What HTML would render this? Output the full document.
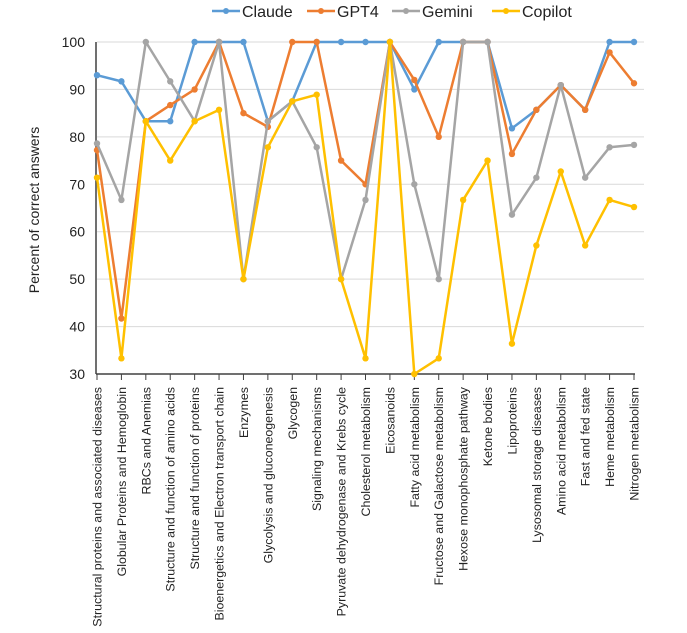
<!DOCTYPE html>
<html><head><meta charset="utf-8"><style>
body{margin:0;background:#fff;}
svg{display:block;font-family:"Liberation Sans",sans-serif;}
</style></head><body>
<svg id="chart" width="687" height="633"></svg>
<script>
const categories=["Structural proteins and associated diseases","Globular Proteins and Hemoglobin","RBCs and Anemias","Structure and function of amino acids","Structure and function of proteins","Bioenergetics and Electron transport chain","Enzymes","Glycolysis and gluconeogenesis","Glycogen","Signaling mechanisms","Pyruvate dehydrogenase and Krebs cycle","Cholesterol metabolism","Eicosanoids","Fatty acid metabolism","Fructose and Galactose metabolism","Hexose monophosphate pathway","Ketone bodies","Lipoproteins","Lysosomal storage diseases","Amino acid metabolism","Fast and fed state","Heme metabolism","Nitrogen metabolism"];
const claude=[93,91.7,83.3,83.3,100,100,100,83.3,87.5,100,100,100,100,90,100,100,100,81.8,85.7,90.9,85.7,100,100];
const gpt4=[77.2,41.7,83.3,86.7,90,100,85,82.1,100,100,75,70,100,92,80,100,100,76.4,85.7,90.9,85.7,97.8,91.3];
const gemini=[78.6,66.7,100,91.7,83.3,100,50,83.3,87.5,77.8,50,66.7,100,70,50,100,100,63.6,71.4,90.9,71.4,77.8,78.3];
const copilot=[71.4,33.3,83.3,75,83.3,85.7,50,77.8,87.5,88.9,50,33.3,100,30,33.3,66.7,75,36.4,57.1,72.7,57.1,66.7,65.2];
const yTicks=[30,40,50,60,70,80,90,100];
const seriesNames=["Claude","GPT4","Gemini","Copilot"];
const NS="http://www.w3.org/2000/svg";
const svg=document.getElementById('chart');
const x0=97,x1=634,yTop=42,yBot=374,yMin=30,yMax=100;
function xs(i){return x0+(x1-x0)*i/(categories.length-1);}
function ys(v){return yBot-(v-yMin)/(yMax-yMin)*(yBot-yTop);}
function mk(tag,attrs,parent){const e=document.createElementNS(NS,tag);for(const k in attrs)e.setAttribute(k,attrs[k]);(parent||svg).appendChild(e);return e;}
yTicks.forEach(t=>{
  if(t>yMin){const g=mk('line',{x1:x0,x2:x1+10,y1:ys(t),y2:ys(t),stroke:'#d9d9d9','stroke-width':1});
  
  }
  const tx=mk('text',{x:85,y:ys(t)+5,'text-anchor':'end','font-size':14,fill:'#222'});tx.textContent=t;
  
  
});
const ax=mk('line',{x1:x0-1,x2:x0-1,y1:yTop,y2:yBot,stroke:'#404040','stroke-width':1.5});


const bx=mk('line',{x1:x0-1,x2:x1+1,y1:yBot,y2:yBot,stroke:'#404040','stroke-width':1.5});


categories.forEach((c,i)=>{
  const tk=mk('line',{x1:xs(i),x2:xs(i),y1:yBot,y2:yBot+6,stroke:'#404040','stroke-width':1});
  
  
  const t=mk('text',{x:0,y:0,'text-anchor':'end','font-size':12.4,fill:'#222',transform:`translate(${xs(i)+4.5},387) rotate(-90)`});
  t.textContent=c;
  
  
});
const yt=mk('text',{x:0,y:0,'text-anchor':'middle','font-size':14,fill:'#222',transform:'translate(39,210) rotate(-90)'});
yt.textContent='Percent of correct answers';


const colors=['#5b9bd5','#ed7d31','#a5a5a5','#ffc000'];
const widths=[2.5,2.5,2.5,2.5];
[claude,gpt4,gemini,copilot].forEach((s,k)=>{
  const g=mk('g',{});
  
  
  mk('polyline',{points:s.map((v,i)=>xs(i)+','+ys(v)).join(' '),fill:'none',stroke:colors[k],'stroke-width':widths[k],'stroke-linejoin':'round'},g);
  s.forEach((v,i)=>{const p=mk('circle',{cx:xs(i),cy:ys(v),r:3.2,fill:colors[k]},g);
    
    });
});
const lx=[212,307,392,492];
seriesNames.forEach((n,k)=>{
  const g=mk('g',{});
  
  
  mk('line',{x1:lx[k],x2:lx[k]+28,y1:11,y2:11,stroke:colors[k],'stroke-width':2.5},g);
  mk('circle',{cx:lx[k]+14,cy:11,r:3,fill:colors[k]},g);
  const t=mk('text',{x:lx[k]+30,y:17,'font-size':16,fill:'#222'},g);t.textContent=n;
});
</script>
</body></html>
